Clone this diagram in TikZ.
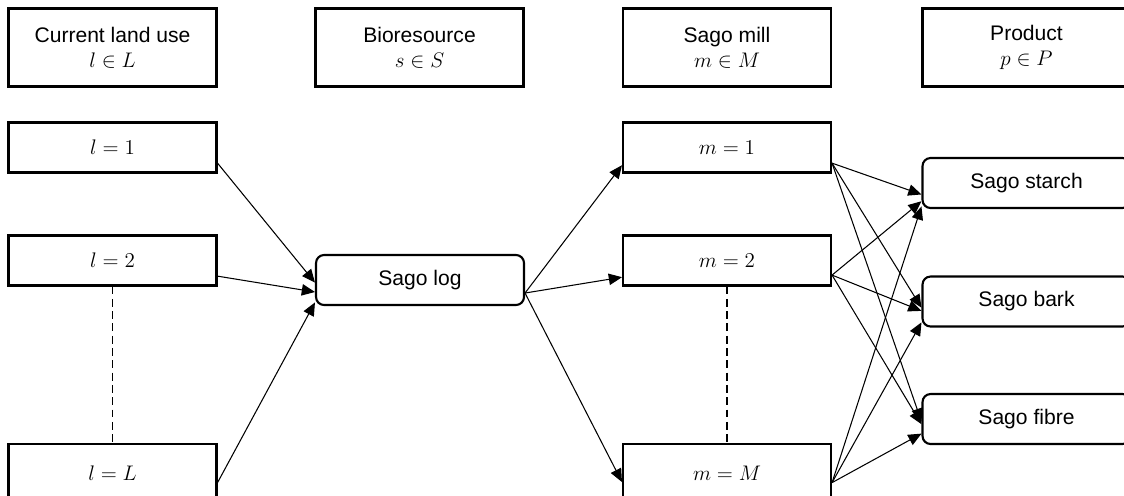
\documentclass[tikz,border=0pt]{standalone}
\usepackage{fontspec}
\setmainfont{Liberation Sans}
\usetikzlibrary{arrows.meta, calc}

\begin{document}
\begin{tikzpicture}[x=0.02cm, y=-0.02cm, >={Triangle[length=7.5pt, width=6.5pt]}, line width=0.6pt]
  % styles of the boxes
  \tikzset{
    box/.style={draw, line width=1.2pt, minimum width=4.16cm, minimum height=1.0cm,
      inner sep=0pt, font=\fontsize{12}{14}\selectfont, align=center},
    headbox/.style={box, minimum height=1.56cm},
    rbox/.style={box, rounded corners=0.16cm},
  }

  % picture frame (boxes on the right and bottom are cut)
  \useasboundingbox (0,0) rectangle (1124,495);
  \clip (0,0) rectangle (1124,495);

  % column headers
  \node[headbox] (hLand) at (112.5, 47.5) {Current land use\\$l\in L$};
  \node[headbox] (hBio) at (419.5, 47.5) {Bioresource\\$s\in S$};
  \node[headbox] (hMill) at (727, 47.5) {Sago mill\\$m\in M$};
  \node[headbox] (hProd) at (1026.5, 47.5) {Product\\$p\in P$};

  % land use
  \node[box] (l1) at (112.5, 147.5) {$l=1$};
  \node[box] (l2) at (112.5, 260.5) {$l=2$};
  \node[box, minimum height=1.16cm] (lL) at (112.5, 473) {$l=L$};

  % bioresource
  \node[rbox] (log) at (420, 280) {Sago log};

  % sago mills
  \node[box] (m1) at (727, 147.5) {$m=1$};
  \node[box] (m2) at (727, 260.5) {$m=2$};
  \node[box, minimum height=1.16cm] (mM) at (727, 473) {$m=M$};

  % products
  \node[rbox] (starch) at (1026.5, 183) {Sago starch};
  \node[rbox] (bark) at (1026.5, 301.5) {Sago bark};
  \node[rbox] (fibre) at (1026.5, 419) {Sago fibre};

  % dashed gaps
  \draw[dashed, dash pattern=on 4.5pt off 2.5pt] (l2.south) -- (lL.north);
  \draw[dashed, dash pattern=on 4.5pt off 2.5pt] (m2.south) -- (mM.north);

  % land use -> sago log
  \draw[->] ($(l1.south east)!0.2!(l1.north east)$) -- ($(log.north west)!0.55!(log.south west)$);
  \draw[->] ($(l2.south east)!0.2!(l2.north east)$) -- ($(log.north west)!0.73!(log.south west)$);
  \draw[->] ($(lL.north east)!0.66!(lL.south east)$) -- ($(log.north west)!0.93!(log.south west)$);

  % sago log -> mills
  \coordinate (logOut) at ($(log.north east)!0.75!(log.south east)$);
  \draw[->] (logOut) -- ($(m1.north west)!0.84!(m1.south west)$);
  \draw[->] (logOut) -- ($(m2.north west)!0.82!(m2.south west)$);
  \draw[->] (logOut) -- ($(mM.north west)!0.65!(mM.south west)$);

  % mills -> products
  \coordinate (m1Out) at ($(m1.north east)!0.8!(m1.south east)$);
  \coordinate (m2Out) at ($(m2.north east)!0.78!(m2.south east)$);
  \coordinate (mMOut) at ($(mM.north east)!0.66!(mM.south east)$);
  \draw[->] (m1Out) -- ($(starch.north west)!0.72!(starch.south west)$);
  \draw[->] (m1Out) -- ($(bark.north west)!0.62!(bark.south west)$);
  \draw[->] (m1Out) -- ($(fibre.north west)!0.55!(fibre.south west)$);
  \draw[->] (m2Out) -- ($(starch.north west)!0.85!(starch.south west)$);
  \draw[->] (m2Out) -- ($(bark.north west)!0.68!(bark.south west)$);
  \draw[->] (m2Out) -- ($(fibre.north west)!0.6!(fibre.south west)$);
  \draw[->] (mMOut) -- ($(starch.north west)!0.95!(starch.south west)$);
  \draw[->] (mMOut) -- ($(bark.north west)!0.9!(bark.south west)$);
  \draw[->] (mMOut) -- ($(fibre.north west)!0.78!(fibre.south west)$);
\end{tikzpicture}
\end{document}
